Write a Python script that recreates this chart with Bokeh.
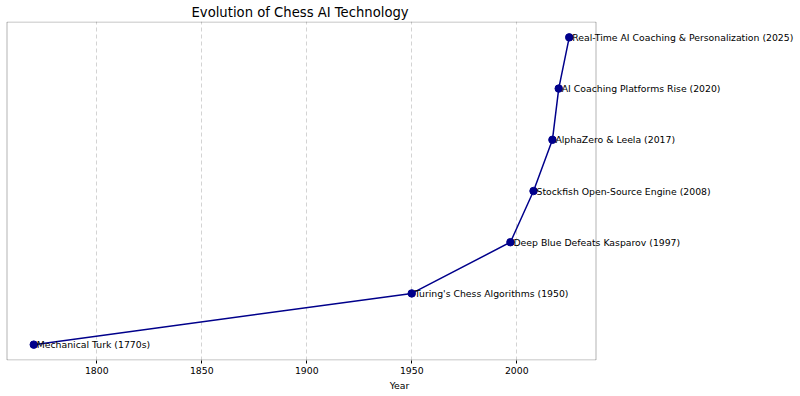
from bokeh.plotting import figure
from bokeh.models import ColumnDataSource, LabelSet, Range1d, FixedTicker, BoxAnnotation
from bokeh.core.properties import value
from bokeh.embed import file_html
from bokeh.resources import INLINE

years = [1770, 1950, 1997, 2008, 2017, 2020, 2025]
levels = [0, 1, 2, 3, 4, 5, 6]
events = [
    "Mechanical Turk (1770s)",
    "Turing's Chess Algorithms (1950)",
    "Deep Blue Defeats Kasparov (1997)",
    "Stockfish Open-Source Engine (2008)",
    "AlphaZero & Leela (2017)",
    "AI Coaching Platforms Rise (2020)",
    "Real-Time AI Coaching & Personalization (2025)",
]
x_ticks = [1800, 1850, 1900, 1950, 2000]

src = ColumnDataSource(dict(x=years, y=levels, t=events))

FONT = "DejaVu Sans"

# axes box limits (matplotlib-style 5% margins)
xpad = 0.05 * (max(years) - min(years))
x0, x1 = min(years) - xpad, max(years) + xpad
ypad = 0.05 * (max(levels) - min(levels))
y0, y1 = min(levels) - ypad, max(levels) + ypad

W = 798
box_left = 6.5
box_w = 589.0
ppx = box_w / (x1 - x0)
xs = x0 - box_left / ppx
xe = xs + W / ppx

FH = 339
box_h = 338.0
ppy = box_h / (y1 - y0)
ys = y0 - 0.5 / ppy
ye = ys + FH / ppy

p = figure(width=W, height=380, output_backend="svg", toolbar_location=None,
           x_range=Range1d(xs, xe), y_range=Range1d(ys, ye),
           frame_width=W, frame_height=FH,
           min_border_left=0, min_border_right=0, min_border_top=0)

p.title.text = "Evolution of Chess AI Technology"
p.title.align = "left"
p.title.text_font = FONT
p.title.text_font_size = "13.2px"
p.title.text_font_style = "normal"
p.title.text_color = "black"
p.title.offset = 191
p.title.standoff = 4

p.line("x", "y", source=src, line_color="#00008B", line_width=1.5)
p.scatter("x", "y", source=src, size=7.5, color="#00008B")

frame_box = BoxAnnotation(left=x0, right=x1, bottom=y0, top=y1,
                          fill_alpha=0, line_color="black", line_width=1)
p.add_layout(frame_box)

labels = LabelSet(x="x", y="y", text="t", source=src, x_offset=3,
                  text_align="left", text_baseline="middle",
                  text_font=value(FONT), text_font_size="9.3px", text_color="black")
p.add_layout(labels)

p.yaxis.visible = False
p.ygrid.visible = False
p.xgrid.ticker = FixedTicker(ticks=x_ticks)
p.xgrid.grid_line_color = "#b0b0b0"
p.xgrid.grid_line_alpha = 0.7
p.xgrid.grid_line_dash = "4 3"
p.xgrid.grid_line_width = 0.8

p.xaxis.ticker = FixedTicker(ticks=x_ticks)
p.xaxis.axis_label = "Year"
p.xaxis.axis_label_text_font = FONT
p.xaxis.axis_label_text_font_size = "9.3px"
p.xaxis.axis_label_text_font_style = "normal"
p.xaxis.axis_label_text_color = "black"
p.xaxis.axis_label_standoff = 3
p.xaxis.major_label_text_font = FONT
p.xaxis.major_label_text_font_size = "9.3px"
p.xaxis.major_label_text_color = "black"
p.xaxis.major_label_standoff = 3
p.xaxis.axis_line_color = None
p.xaxis.minor_tick_line_color = None
p.xaxis.major_tick_in = 0
p.xaxis.major_tick_out = 3
p.xaxis.major_tick_line_color = "black"

p.outline_line_color = None

open("out.html", "w").write(file_html(p, INLINE))
